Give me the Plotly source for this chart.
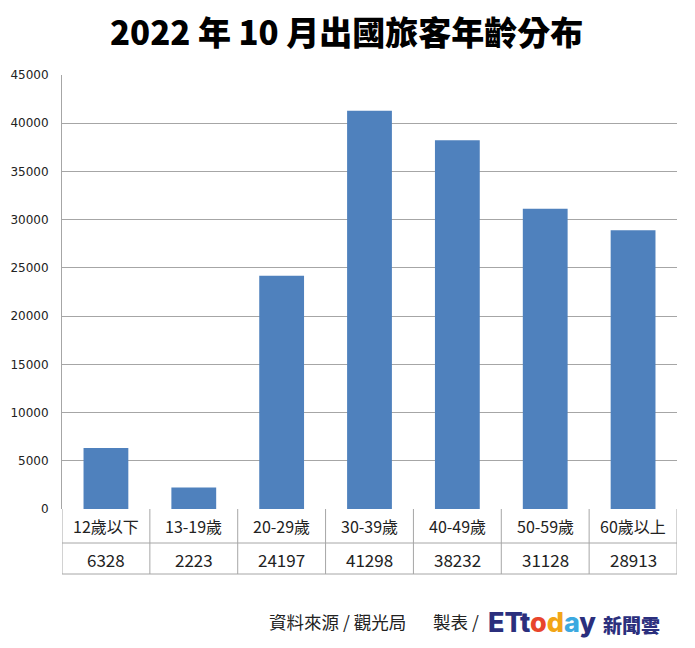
import plotly.graph_objects as go

categories = ["12歲以下", "13-19歲", "20-29歲", "30-39歲", "40-49歲", "50-59歲", "60歲以上"]
values = [6328, 2223, 24197, 41298, 38232, 31128, 28913]
y_ticks = [0, 5000, 10000, 15000, 20000, 25000, 30000, 35000, 40000, 45000]

OFF = 8  # page body margin
W, H = 695 - OFF, 648 - OFF
PL, PR, PT, PB = 62, 677, 75, 509  # plot area in reference pixels
L, T = PL - OFF, PT - OFF
R = W - (PR - OFF)
B = H - (PB - OFF)
plot_h = PB - PT
plot_w = PR - PL

def py(pix):
    return (PB - pix) / plot_h

def px(pix):
    return (pix - PL) / plot_w

fig = go.Figure()
fig.add_trace(go.Bar(x=list(range(len(categories))), y=values,
                     marker=dict(color="#4F81BD", line=dict(width=0)),
                     width=0.51, hoverinfo="skip"))

line_col = "#A6A6A6"
shapes = []
n = len(categories)
for i in range(n + 1):
    shapes.append(dict(type="line", xref="x", yref="paper", x0=i - 0.5, x1=i - 0.5,
                       y0=0, y1=py(574), line=dict(color=line_col, width=1)))
for yy in [543, 574]:
    shapes.append(dict(type="line", xref="x", yref="paper", x0=-0.5, x1=n - 0.5,
                       y0=py(yy), y1=py(yy), line=dict(color=line_col, width=1)))

annotations = []
cat_font = dict(family="Liberation Sans Narrow, Noto Sans CJK TC", size=16, color="#222")
val_font = dict(family="Liberation Sans Narrow, Noto Sans CJK TC", size=17, color="#222")
for i, (c, v) in enumerate(zip(categories, values)):
    annotations.append(dict(x=i, y=py(526), xref="x", yref="paper", text=c, showarrow=False,
                            font=cat_font, xanchor="center", yanchor="middle"))
    annotations.append(dict(x=i, y=py(559), xref="x", yref="paper", text=str(v), showarrow=False,
                            font=val_font, xanchor="center", yanchor="middle"))

annotations.append(dict(x=px(346), y=py(31), xref="paper", yref="paper", xanchor="center", yanchor="middle",
                        text="2022 年 10 月出國旅客年齡分布", showarrow=False,
                        font=dict(family="Noto Sans CJK TC Black, Noto Sans CJK TC", size=33,
                                  weight=900, color="#000")))
foot_font = dict(family="Noto Sans CJK TC", size=17.5, color="#222")
annotations.append(dict(x=px(267), y=py(621), xref="paper", yref="paper", xanchor="left", yanchor="middle",
                        text="資料來源 / 觀光局", showarrow=False, font=foot_font))
annotations.append(dict(x=px(431), y=py(621), xref="paper", yref="paper", xanchor="left", yanchor="middle",
                        text="製表 /", showarrow=False, font=foot_font))
logo = ("<span style='color:#2B2F7D'>ETt</span><span style='color:#E8452C'>o</span>"
        "<span style='color:#F2A516'>d</span><span style='color:#3CA9E0'>a</span>"
        "<span style='color:#2B2F7D'>y</span>")
annotations.append(dict(x=px(486), y=py(622), xref="paper", yref="paper", xanchor="left", yanchor="middle",
                        text=logo, showarrow=False,
                        font=dict(family="Inter, Noto Sans", size=27, weight=800, color="#2B2F7D")))
annotations.append(dict(x=px(601), y=py(624), xref="paper", yref="paper", xanchor="left", yanchor="middle",
                        text="新聞雲", showarrow=False,
                        font=dict(family="Noto Sans CJK TC", size=19, weight=900, color="#2B2F7D")))

fig.update_layout(
    width=W, height=H,
    margin=dict(l=L, r=R, t=T, b=B, pad=0),
    paper_bgcolor="white", plot_bgcolor="white",
    showlegend=False,
    shapes=shapes,
    annotations=annotations,
    xaxis=dict(range=[-0.5, n - 0.5], showticklabels=False, showgrid=False, zeroline=False,
               showline=False, ticks=""),
    yaxis=dict(range=[0, 45000], tickvals=y_ticks, ticktext=[str(t) for t in y_ticks],
               showgrid=True, gridcolor=line_col, gridwidth=1, zeroline=False,
               showline=True, linecolor=line_col, linewidth=1, ticks="", ticklen=0,
               ticklabelstandoff=10,
               tickfont=dict(family="DejaVu Sans", size=12, color="#222"), automargin=False),
)

fig.write_html("out.html")
